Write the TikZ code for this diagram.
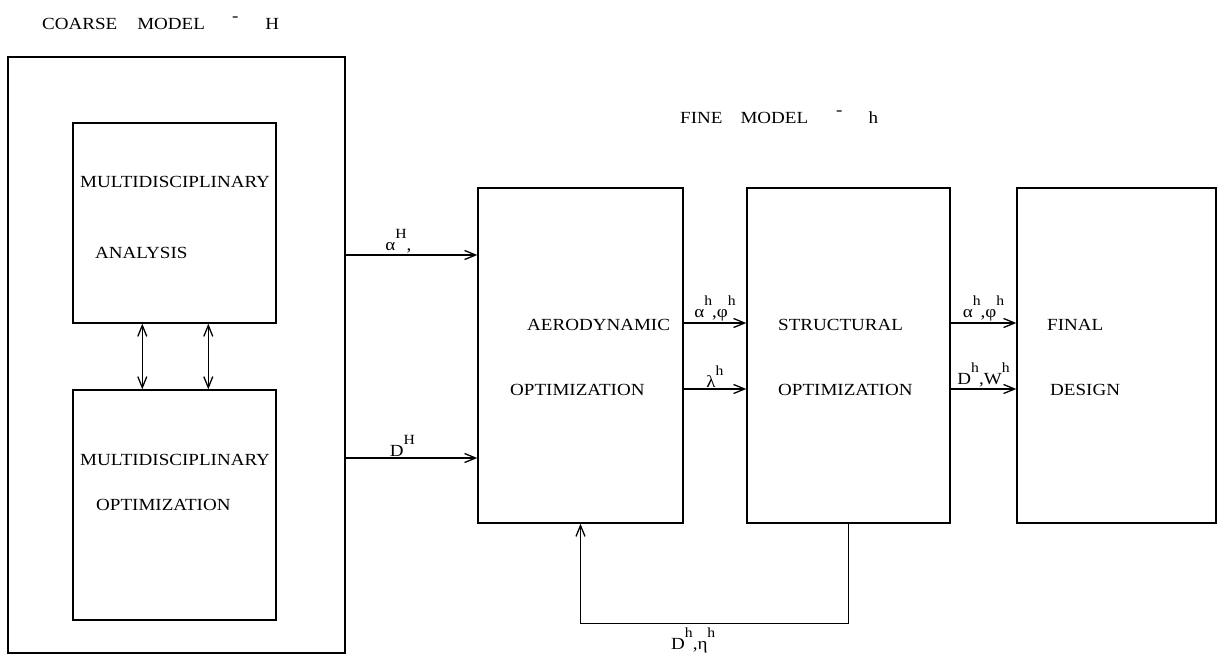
\documentclass[tikz,border=0pt]{standalone}
\usepackage{fontspec}
\setmainfont[FakeStretch=1.12]{Liberation Serif}
\usetikzlibrary{arrows.meta,positioning}
\newcommand\upidx[1]{\raisebox{0.7em}{\fontsize{14}{14}\selectfont #1}}

\begin{document}
\begin{tikzpicture}[
  x=1pt,y=-1pt,
  box/.style={draw, line width=1.4pt, inner sep=0pt},
  txt/.style={anchor=west, inner sep=0pt, font=\fontsize{17}{20}\selectfont},
  lbl/.style={inner sep=1pt, font=\fontsize{17}{20}\selectfont},
  arr/.style={-{Straight Barb[length=11pt,width=9pt]}, line width=1.3pt},
  dbl/.style={{Straight Barb[length=11pt,width=9pt]}-{Straight Barb[length=11pt,width=9pt]}, line width=1.3pt}
]
\useasboundingbox (0,0) rectangle (1217,661);
% coarse model
\node[box, minimum width=337pt, minimum height=596pt] (coarse) at (176.5,355) {};
\node[box, minimum width=203pt, minimum height=200pt] (mda) at (174.5,223) {};
\node[box, minimum width=203pt, minimum height=230pt] (mdo) at (174.5,505) {};
% fine model
\node[box, minimum width=205pt, minimum height=335pt] (aero) at (580.5,355.5) {};
\node[box, minimum width=203pt, minimum height=335pt] (struct) at (848.5,355.5) {};
\node[box, minimum width=199pt, minimum height=335pt] (final) at (1116.5,355.5) {};
% titles
\node[txt] (coarsettl) at (42,23) {COARSE\hspace{20pt}MODEL\hspace{27pt}\raisebox{.45em}{-}\hspace{27pt}H};
\node[txt] (finettl) at (680,117) {FINE\hspace{18pt}MODEL\hspace{28pt}\raisebox{.45em}{-}\hspace{26pt}h};
% box texts
\node[txt] (mdaA) at (80,182) {MULTIDISCIPLINARY};
\node[txt] (mdaB) at (95,253) {ANALYSIS};
\node[txt] (mdoA) at (80,460) {MULTIDISCIPLINARY};
\node[txt] (mdoB) at (96,505) {OPTIMIZATION};
\node[txt] (aeroA) at (527,325) {AERODYNAMIC};
\node[txt] (aeroB) at (510,390) {OPTIMIZATION};
\node[txt] (structA) at (778,325) {STRUCTURAL};
\node[txt] (structB) at (778,390) {OPTIMIZATION};
\node[txt] (finalA) at (1047,325) {FINAL};
\node[txt] (finalB) at (1050,390) {DESIGN};
% arrow heights
\coordinate (ya) at (0,255);
\coordinate (yd) at (0,458);
\coordinate (yu) at (0,323);
\coordinate (yl) at (0,389);
\foreach \dx in {70,136}{\draw[dbl] ([xshift=\dx pt]mda.south west) -- ([xshift=\dx pt]mdo.north west);}
\draw[arr] (coarse.east |- ya) -- node[lbl, above, pos=0.4] (la) {α\upidx{H},} (aero.west |- ya);
\draw[arr] (coarse.east |- yd) -- node[lbl, above, pos=0.43] (ld) {D\upidx{H}} (aero.west |- yd);
\draw[arr] (aero.east |- yu) -- node[lbl, above] (lap) {α\upidx{h},φ\upidx{h}} (struct.west |- yu);
\draw[arr] (aero.east |- yl) -- node[lbl, above] (llam) {λ\upidx{h}} (struct.west |- yl);
\draw[arr] (struct.east |- yu) -- node[lbl, above] (lap2) {α\upidx{h},φ\upidx{h}} (final.west |- yu);
\draw[arr] (struct.east |- yl) -- node[lbl, above] (ldw) {D\upidx{h},W\upidx{h}} (final.west |- yl);
\draw[arr] (struct.south) -- ++(0,100) coordinate (fb) -| (aero.south);
\node[lbl, below left=3pt and 132pt of fb] (lde) {D\upidx{h},η\upidx{h}};
\end{tikzpicture}
\end{document}
